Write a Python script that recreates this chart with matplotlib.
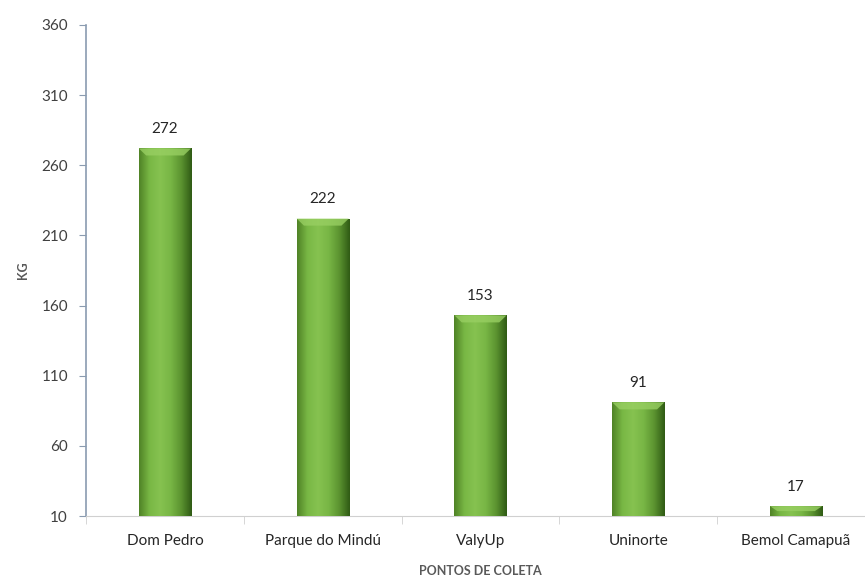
import matplotlib.pyplot as plt
import numpy as np
from matplotlib.colors import LinearSegmentedColormap
from matplotlib.patches import Polygon

plt.rcParams['font.family'] = ['Lato', 'DejaVu Sans']

# data
pontos = ['Dom Pedro', 'Parque do Mindú', 'ValyUp', 'Uninorte', 'Bemol Camapuã']
kg = [272, 222, 153, 91, 17]
yticks = [10, 60, 110, 160, 210, 260, 310, 360]

fig = plt.figure(figsize=(8.65, 5.78), dpi=100)
ax = fig.add_axes([86 / 865, 62 / 578, 789 / 865, 491 / 578])

base = 10
width = 0.33
x = np.arange(len(pontos))
bars = ax.bar(x, np.array(kg) - base, bottom=base, width=width,
              color='#6aa83c', edgecolor='none', zorder=2)

# cylinder-like shading for each bar
cmap = LinearSegmentedColormap.from_list(
    'g', ['#4f8226', '#79b845', '#86c250', '#78b645', '#5b9330', '#2f5a14'])
grad = np.linspace(0, 1, 256).reshape(1, -1)
for b, v in zip(bars, kg):
    x0 = b.get_x()
    w = b.get_width()
    im = ax.imshow(grad, cmap=cmap, aspect='auto', zorder=3,
                   extent=[x0, x0 + w, base, v], interpolation='bicubic')
    im.set_clip_path(b)
    # bevel on top
    h = min(5.0, (v - base) * 0.5)
    inset = w * 0.14
    top = Polygon([[x0, v], [x0 + w, v], [x0 + w - inset, v - h], [x0 + inset, v - h]],
                  closed=True, facecolor='#98cf62', edgecolor='none', alpha=0.8, zorder=4)
    ax.add_patch(top)
    ax.annotate(str(v), (b.get_x() + w / 2, v), xytext=(0, 9), textcoords='offset points',
                ha='center', va='bottom', fontsize=11, color='#262626')

ax.set_ylim(base, 360)
ax.set_xlim(-0.5, len(pontos) - 0.5)
ax.set_yticks(yticks)
ax.set_xticks(x)
ax.set_xticklabels(pontos)
ax.set_xticks(np.arange(len(pontos) + 1) - 0.5, minor=True)

for s in ['top', 'right']:
    ax.spines[s].set_visible(False)
ax.spines['left'].set_color('#8a9bb0')
ax.spines['left'].set_linewidth(1.2)
ax.spines['bottom'].set_color('#d0d0d0')

ax.tick_params(axis='y', length=5, color='#8a9bb0', labelsize=11, labelcolor='#404040', pad=8)
ax.tick_params(axis='x', which='major', length=0, labelsize=11, labelcolor='#262626', pad=13)
ax.tick_params(axis='x', which='minor', length=6, color='#d0d0d0')

ax.set_xlabel('PONTOS DE COLETA', fontsize=9, fontweight='bold', color='#595959', labelpad=12)
ax.set_ylabel('KG', fontsize=9, fontweight='bold', color='#595959', labelpad=9)

fig.savefig('out.png', dpi=100)
